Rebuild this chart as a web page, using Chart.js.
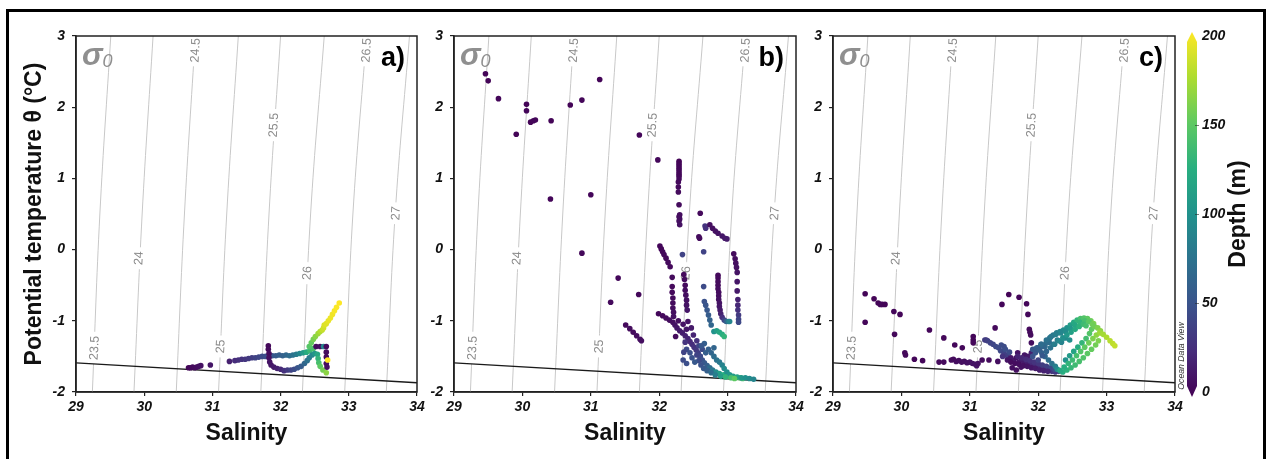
<!DOCTYPE html>
<html lang="en">
<head>
<meta charset="UTF-8" />
<title>Potential temperature – salinity diagrams</title>
<style>
  body { margin: 0; background: #fff; }
  .figure { position: relative; width: 1268px; height: 459px; overflow: hidden; background: #fff; }
  .figure .border {
    position: absolute; left: 6px; top: 9px; width: 1260px; height: 480px;
    border: 3px solid #000; box-sizing: border-box;
  }
  canvas { position: absolute; top: 0; }
</style>
</head>
<body>
<div class="figure">
  <div class="border"></div>
  <canvas id="panelA" width="428" height="459" style="left:0px"></canvas>
  <canvas id="panelB" width="392" height="459" style="left:420px"></canvas>
  <canvas id="panelC" width="462" height="459" style="left:806px"></canvas>
</div>

<script src="https://cdn.jsdelivr.net/npm/chart.js"></script>
<script>
  const FONT = '"Liberation Sans", Arial, Helvetica, sans-serif';

  // axis ranges
  const salRange = [29, 34];
  const thetaRange = [-2, 3];
  const depthMin = 0;
  const depthMax = 200;

  // sigma-0 isopycnals: salinity where each line meets theta = -2, 0.5 and 3 degC
  const sigmaLevels = ['23.5', '24', '24.5', '25', '25.5', '26', '26.5', '27'];
  const isoTemps = [-2, 0.5, 3];
  const isoSalLow  = [29.24, 29.85, 30.47, 31.09, 31.71, 32.32, 32.94, 33.55];
  const isoSalMid  = [29.35, 29.97, 30.59, 31.21, 31.83, 32.44, 33.06, 33.68];
  const isoSalHigh = [29.51, 30.13, 30.75, 31.38, 32.00, 32.64, 33.26, 33.89];
  const labelSal  = [29.26, 29.91, 30.74, 31.11, 31.89, 32.38, 33.25, 33.68];
  const labelTemp = [-1.38, -0.12, 2.80, -1.36, 1.75, -0.33, 2.80, 0.51];

  // surface freezing point line
  const freezeSal = [29, 34];
  const freezeTemp = [-1.59, -1.87];

  // a) casts
  const salA = [
    30.65, 30.68, 30.71, 30.74, 30.77, 30.80, 30.83, 30.97, 31.25,
    31.33, 31.38, 31.43, 31.48, 31.53, 31.58, 31.63, 31.68, 31.73, 31.78, 31.83, 31.88, 31.93, 31.98, 32.03, 32.08, 32.13, 32.18, 32.23, 32.28, 32.33, 32.38, 32.43, 32.48,
    32.42, 32.45, 32.48, 32.51, 32.55, 32.58, 32.61, 32.63, 32.64, 32.67, 32.70, 32.73, 32.76, 32.79, 32.82, 32.86,
    31.82, 31.82, 31.83, 31.83, 31.84, 31.86, 31.90, 31.95, 32.00, 32.05, 32.10, 32.15, 32.20, 32.25, 32.30, 32.35, 32.39, 32.42, 32.46, 32.50, 32.54, 32.55, 32.56, 32.58, 32.62, 32.67,
    32.52, 32.58, 32.63, 32.67, 32.67, 32.67, 32.67, 32.68, 32.69
  ];
  const thetaA = [
    -1.66, -1.66, -1.65, -1.66, -1.65, -1.64, -1.63, -1.62, -1.57,
    -1.56, -1.55, -1.54, -1.54, -1.53, -1.52, -1.52, -1.51, -1.50, -1.50, -1.49, -1.49, -1.49, -1.48, -1.49, -1.48, -1.49, -1.48, -1.47, -1.46, -1.45, -1.44, -1.42, -1.39,
    -1.36, -1.31, -1.26, -1.22, -1.18, -1.15, -1.13, -1.10, -1.06, -1.04, -1.00, -0.96, -0.91, -0.86, -0.81, -0.75,
    -1.35, -1.40, -1.46, -1.52, -1.58, -1.62, -1.65, -1.67, -1.68, -1.70, -1.69, -1.69, -1.68, -1.66, -1.64, -1.60, -1.56, -1.52, -1.48, -1.46, -1.47, -1.53, -1.59, -1.64, -1.69, -1.73,
    -1.36, -1.36, -1.36, -1.36, -1.44, -1.51, -1.60, -1.65, -1.55
  ];
  const depthA = [
    3, 4, 5, 6, 7, 8, 9, 12, 18,
    25, 27, 29, 31, 33, 36, 39, 42, 45, 48, 50, 53, 56, 59, 62, 66, 70, 75, 82, 92, 108, 122, 134, 142,
    146, 152, 158, 164, 170, 176, 182, 186, 189, 191, 193, 195, 196, 198, 199, 200,
    4, 5, 6, 8, 10, 12, 15, 18, 22, 28, 34, 40, 46, 52, 58, 66, 74, 82, 92, 104, 118, 130, 140, 150, 158, 165,
    6, 8, 90, 5, 6, 5, 7, 8, 200
  ];

  // b) casts
  const salB = [
    29.46, 29.50, 29.65, 30.06, 30.06, 29.91, 30.12, 30.16, 30.19, 30.42, 30.70, 30.87, 31.13, 30.41, 31.00, 30.87, 31.71, 31.98, 31.40, 31.29, 31.70, 31.51, 31.57, 31.62, 31.67, 31.72, 31.74,
    32.29, 32.29, 32.29, 32.29, 32.29, 32.29, 32.29, 32.29, 32.29, 32.28, 32.28, 32.28, 32.29, 32.30, 32.29, 32.30, 32.29, 32.30,
    32.60, 32.67, 32.68, 32.74, 32.78, 32.82, 32.86, 32.92, 32.96, 32.99, 32.59, 32.58, 32.65,
    33.09, 33.11, 33.12, 33.13, 33.14, 33.14, 33.14, 33.15, 33.15, 33.15, 33.16, 33.16, 33.16,
    32.86, 32.86, 32.86, 32.86, 32.86, 32.87, 32.87, 32.87, 32.88, 32.88, 32.89, 32.90, 32.92, 32.95, 32.98, 33.01, 33.03,
    32.01, 32.03, 32.05, 32.07, 32.10, 32.13, 32.16, 32.19,
    32.19, 32.19, 32.20, 32.20, 32.20, 32.21, 32.21,
    32.34, 32.36, 32.37, 32.38, 32.38, 32.39, 32.40, 32.40, 32.41,
    32.65, 32.66, 32.68, 32.70, 32.72, 32.74, 32.76,
    32.80, 32.84, 32.88, 32.92, 32.95,
    31.99, 32.05, 32.10, 32.15, 32.20, 32.23, 32.26, 32.30, 32.34, 32.38, 32.42, 32.45, 32.48, 32.51, 32.54, 32.57, 32.60,
    32.28, 32.35, 32.40, 32.42, 32.47, 32.38, 32.40, 32.45, 32.36, 32.50, 32.55, 32.58, 32.63, 32.66, 32.24,
    32.60, 32.63, 32.66, 32.70, 32.74, 32.78, 32.83, 32.88, 32.94, 33.00, 33.06, 33.12, 33.18, 33.22,
    32.72, 32.76, 32.80, 32.84, 32.88, 32.92, 32.95, 32.99, 33.03, 33.08, 33.14, 33.20, 33.26, 33.32, 33.38,
    32.55, 32.58, 32.61, 32.65, 32.70, 32.76, 32.82, 32.90, 32.97, 33.05, 33.10,
    32.35, 32.40, 32.48, 32.52, 32.62, 32.68, 32.80
  ];
  const thetaB = [
    2.47, 2.37, 2.12, 2.04, 1.95, 1.62, 1.79, 1.81, 1.82, 1.81, 2.03, 2.10, 2.39, 0.71, 0.77, -0.05, 1.61, 1.26, -0.40, -0.74, -0.63, -1.06, -1.11, -1.16, -1.21, -1.26, -1.28,
    1.24, 1.21, 1.18, 1.15, 1.12, 1.09, 1.06, 1.03, 0.99, 0.95, 0.88, 0.81, 0.63, 0.49, 0.46, 0.43, 0.40, 0.35,
    0.51, 0.33, 0.30, 0.35, 0.30, 0.26, 0.23, 0.19, 0.16, 0.15, 0.16, 0.18, -0.03,
    -0.06, -0.13, -0.19, -0.25, -0.32, -0.45, -0.58, -0.70, -0.78, -0.85, -0.92, -0.98, -1.02,
    -0.36, -0.40, -0.45, -0.50, -0.55, -0.60, -0.65, -0.70, -0.75, -0.80, -0.85, -0.90, -0.95, -0.99, -1.01, -1.01, -1.01,
    0.05, 0.01, -0.03, -0.07, -0.12, -0.18, -0.24, -0.39,
    -0.52, -0.60, -0.68, -0.75, -0.82, -0.88, -0.94,
    -0.07, -0.35, -0.42, -0.50, -0.57, -0.64, -0.71, -0.78, -0.85,
    -0.52, -0.73, -0.78, -0.85, -0.92, -0.99, -1.06,
    -1.15, -1.14, -1.16, -1.19, -1.22,
    -0.90, -0.93, -0.96, -0.99, -1.02, -1.06, -1.10, -1.14, -1.17, -1.21, -1.25, -1.29, -1.33, -1.37, -1.41, -1.45, -1.50,
    -1.00, -1.05, -1.12, -1.01, -1.10, -1.30, -1.40, -1.45, -1.44, -1.20, -1.28, -1.35, -1.40, -1.32, -1.22,
    -1.50, -1.55, -1.59, -1.63, -1.66, -1.69, -1.72, -1.74, -1.76, -1.78, -1.79, -1.80, -1.80, -1.81,
    -1.40, -1.45, -1.50, -1.55, -1.58, -1.62, -1.67, -1.72, -1.76, -1.78, -1.79, -1.80, -1.80, -1.81, -1.82,
    -1.48, -1.56, -1.62, -1.67, -1.70, -1.73, -1.76, -1.78, -1.79, -1.80, -1.81,
    -1.55, -1.60, -1.52, -1.58, -1.35, -1.45, -1.38
  ];
  const depthB = [
    2, 2, 3, 2, 3, 2, 2, 3, 3, 2, 2, 3, 2, 3, 3, 4, 3, 4, 4, 5, 4, 5, 6, 6, 7, 8, 8,
    2, 2, 3, 3, 3, 4, 4, 4, 5, 5, 5, 6, 6, 7, 7, 8, 8, 9,
    5, 30, 28, 8, 8, 9, 10, 12, 14, 15, 6, 6, 40,
    6, 7, 8, 9, 10, 12, 14, 18, 22, 28, 34, 40, 44,
    5, 5, 6, 6, 7, 7, 8, 9, 10, 12, 14, 18, 26, 40, 60, 80, 90,
    3, 3, 4, 4, 4, 5, 5, 6,
    5, 5, 6, 6, 7, 8, 9,
    40, 5, 6, 6, 7, 8, 9, 10, 12,
    45, 50, 52, 55, 58, 62, 66,
    100, 110, 118, 124, 130,
    4, 5, 6, 7, 8, 10, 12, 14, 16, 18, 20, 22, 25, 28, 32, 36, 40,
    8, 10, 12, 10, 14, 30, 45, 48, 40, 20, 28, 40, 45, 60, 6,
    45, 50, 55, 60, 70, 80, 95, 110, 125, 135, 140, 145, 150, 140,
    60, 65, 70, 75, 80, 88, 95, 100, 105, 110, 115, 105, 100, 95, 90,
    40, 45, 50, 55, 60, 70, 85, 110, 130, 140, 150,
    45, 48, 50, 55, 55, 60, 65
  ];

  // c) casts
  const salC = [
    29.47, 29.47, 29.60, 29.66, 29.69, 29.72, 29.76, 29.89, 29.98, 29.90, 30.05, 30.06, 30.19, 30.31, 30.41, 30.62, 30.78, 30.89, 30.55, 30.62,
    30.73, 30.76, 30.80, 30.84, 30.88, 30.92, 30.96, 31.00, 31.04, 31.08, 31.10,
    31.05, 31.05, 31.05, 31.24, 31.37, 31.28, 31.47, 31.57, 31.72, 31.83, 31.85, 31.87, 31.88, 31.89, 31.90, 31.41, 31.18, 31.12,
    31.22, 31.26, 31.30, 31.34, 31.38, 31.42, 31.46, 31.50, 31.45, 31.50, 31.54, 31.56, 31.48, 31.52, 31.58,
    31.55, 31.60, 31.64, 31.68, 31.72, 31.76, 31.80, 31.84, 31.88, 31.92, 31.96, 32.00, 32.05, 32.10, 32.15, 32.20, 32.25, 32.30,
    31.62, 31.68, 31.75, 31.85, 31.90, 31.80, 31.70,
    31.70, 31.76, 31.82, 31.88, 31.94, 32.00, 32.06, 32.12, 32.18, 32.24,
    31.60, 31.66, 31.72, 31.78, 31.84, 31.90, 31.96, 32.02, 32.08, 32.14,
    31.92, 31.96, 32.00, 31.95, 32.05, 32.10, 32.15, 32.20, 32.25, 32.28,
    31.92, 31.98, 32.04, 32.10, 32.16, 32.22, 32.28, 32.34, 32.40, 32.46,
    32.02, 32.07, 32.12, 32.17, 32.22, 32.27, 32.32, 32.37, 32.42, 32.47, 32.52, 32.57, 32.62, 32.67, 32.72, 32.77, 32.81,
    32.05, 32.12, 32.19, 32.26, 32.33, 32.40, 32.47, 32.54, 32.61, 32.68, 32.74, 32.79,
    32.00, 32.06, 32.12, 32.18, 32.24, 32.30, 32.36, 32.42, 32.48, 32.54, 32.60, 32.66, 32.70,
    32.40, 32.46, 32.52, 32.58, 32.64, 32.70, 32.75, 32.78, 32.82, 32.87, 32.91,
    32.36, 32.42, 32.48, 32.54, 32.60, 32.66, 32.72, 32.78, 32.84, 32.88,
    32.32, 32.38, 32.44, 32.50, 32.56, 32.62, 32.68, 32.74, 32.80, 32.85, 32.90, 32.95, 33.00, 33.05, 33.09, 33.12
  ];
  const thetaC = [
    -0.62, -1.02, -0.69, -0.75, -0.77, -0.77, -0.77, -0.87, -0.91, -1.19, -1.45, -1.48, -1.54, -1.56, -1.13, -1.24, -1.34, -1.38, -1.58, -1.58,
    -1.55, -1.54, -1.57, -1.56, -1.58, -1.57, -1.59, -1.58, -1.60, -1.61, -1.63,
    -1.22, -1.27, -1.31, -1.27, -1.10, -1.55, -0.77, -0.63, -0.67, -0.76, -0.91, -1.12, -1.16, -1.20, -1.31, -1.57, -1.55, -1.60,
    -1.27, -1.28, -1.31, -1.33, -1.36, -1.38, -1.34, -1.36, -1.42, -1.46, -1.48, -1.52, -1.50, -1.40, -1.44,
    -1.55, -1.52, -1.56, -1.52, -1.58, -1.55, -1.60, -1.58, -1.62, -1.60, -1.64, -1.66, -1.67, -1.69, -1.70, -1.71, -1.72, -1.71,
    -1.66, -1.69, -1.65, -1.50, -1.45, -1.48, -1.45,
    -1.50, -1.52, -1.54, -1.56, -1.58, -1.60, -1.62, -1.64, -1.66, -1.68,
    -1.58, -1.60, -1.61, -1.63, -1.64, -1.66, -1.67, -1.69, -1.70, -1.71,
    -1.50, -1.45, -1.38, -1.40, -1.45, -1.50, -1.55, -1.60, -1.64, -1.68,
    -1.40, -1.38, -1.33, -1.36, -1.30, -1.33, -1.27, -1.30, -1.24, -1.27,
    -1.41, -1.36, -1.30, -1.24, -1.20, -1.17, -1.15, -1.13, -1.10, -1.06, -1.02, -0.99, -0.97, -0.96, -0.97, -1.00, -1.04,
    -1.33, -1.27, -1.22, -1.19, -1.17, -1.15, -1.11, -1.06, -1.02, -1.00, -1.01, -1.05,
    -1.55, -1.49, -1.43, -1.38, -1.33, -1.28, -1.24, -1.20, -1.16, -1.12, -1.08, -1.05, -1.07,
    -1.55, -1.49, -1.43, -1.37, -1.31, -1.25, -1.18, -1.12, -1.08, -1.10, -1.14,
    -1.72, -1.69, -1.66, -1.62, -1.57, -1.52, -1.46, -1.40, -1.34, -1.28,
    -1.70, -1.65, -1.60, -1.55, -1.49, -1.43, -1.37, -1.31, -1.25, -1.20, -1.17, -1.19, -1.23, -1.28, -1.32, -1.35
  ];
  const depthC = [
    2, 3, 2, 2, 3, 3, 2, 3, 3, 4, 4, 4, 3, 3, 3, 4, 4, 4, 5, 5,
    6, 6, 7, 7, 8, 8, 9, 9, 10, 10, 11,
    3, 3, 4, 30, 5, 6, 3, 2, 3, 3, 4, 5, 5, 6, 8, 8, 7, 9,
    35, 38, 40, 42, 44, 45, 46, 46, 44, 40, 38, 36, 30, 48, 46,
    10, 12, 14, 10, 12, 15, 16, 18, 20, 22, 22, 24, 26, 28, 30, 32, 34, 36,
    8, 8, 10, 15, 18, 12, 10,
    20, 22, 25, 28, 30, 32, 35, 38, 42, 46,
    6, 7, 8, 9, 10, 12, 14, 16, 18, 20,
    50, 55, 60, 55, 60, 65, 70, 75, 85, 95,
    55, 60, 65, 70, 72, 78, 82, 88, 92, 98,
    60, 65, 70, 75, 80, 85, 90, 95, 100, 110, 120, 130, 140, 145, 150, 155, 160,
    70, 75, 80, 85, 90, 95, 105, 118, 130, 140, 148, 155,
    40, 55, 65, 75, 85, 92, 98, 105, 112, 120, 128, 135, 140,
    100, 108, 115, 122, 130, 138, 145, 150, 155, 160, 165,
    125, 128, 132, 136, 140, 144, 148, 152, 156, 160,
    120, 125, 130, 135, 140, 145, 150, 155, 160, 165, 170, 172, 175, 178, 180, 182
  ];

  const depthTicks = [0, 50, 100, 150, 200];

  // viridis colour ramp
  const viridisStops = ['#440154', '#472d7b', '#3b528b', '#2c728e', '#21918c', '#28ae80', '#5ec962', '#addc30', '#fde725'];
  function hexRgb(h) { return [1, 3, 5].map(i => parseInt(h.slice(i, i + 2), 16)); }
  function viridis(f) {
    f = Math.min(1, Math.max(0, f));
    const p = f * (viridisStops.length - 1);
    const i = Math.min(Math.floor(p), viridisStops.length - 2);
    const t = p - i;
    const a = hexRgb(viridisStops[i]), b = hexRgb(viridisStops[i + 1]);
    const c = a.map((v, k) => Math.round(v + (b[k] - v) * t));
    return `rgb(${c[0]},${c[1]},${c[2]})`;
  }

  // isopycnal labels, drawn right after their line so the white gap hides it
  const isoLabels = {
    id: 'isoLabels',
    afterDatasetDraw(chart, args) {
      const ds = chart.data.datasets[args.index];
      if (ds.sigmaIndex === undefined) return;
      const i = ds.sigmaIndex;
      const { ctx, scales: { x, y } } = chart;
      const ang = Math.atan2(
        y.getPixelForValue(isoTemps[2]) - y.getPixelForValue(isoTemps[0]),
        x.getPixelForValue(isoSalHigh[i]) - x.getPixelForValue(isoSalLow[i])
      );
      ctx.save();
      ctx.translate(x.getPixelForValue(labelSal[i]), y.getPixelForValue(labelTemp[i]));
      ctx.rotate(ang);
      ctx.font = '12.5px ' + FONT;
      const w = ctx.measureText(sigmaLevels[i]).width;
      ctx.fillStyle = '#fff';
      ctx.fillRect(-w / 2 - 4, -6, w + 8, 12);
      ctx.fillStyle = '#8a8a8a';
      ctx.textAlign = 'center';
      ctx.textBaseline = 'middle';
      ctx.fillText(sigmaLevels[i], 0, 1);
      ctx.restore();
    }
  };

  // frame, sigma-0 tag and panel letter
  const panelDecor = {
    id: 'panelDecor',
    afterDraw(chart, args, opts) {
      const { ctx, chartArea: a } = chart;
      ctx.save();
      ctx.strokeStyle = '#222';
      ctx.lineWidth = 1.5;
      ctx.strokeRect(a.left, a.top, a.right - a.left, a.bottom - a.top);

      ctx.fillStyle = '#8f8f8f';
      ctx.textAlign = 'left';
      ctx.textBaseline = 'alphabetic';
      ctx.font = 'italic bold 31px ' + FONT;
      ctx.fillText('σ', a.left + 6, a.top + 29);
      const sw = ctx.measureText('σ').width;
      ctx.font = 'italic 18px ' + FONT;
      ctx.fillText('0', a.left + 6 + sw, a.top + 31);

      ctx.fillStyle = '#000';
      ctx.textAlign = 'right';
      ctx.font = 'bold 27px ' + FONT;
      ctx.fillText(opts.letter, a.right - 12, a.top + 30);
      ctx.restore();
    }
  };

  // depth colour bar painted beside the depth scale
  const depthBar = {
    id: 'depthBar',
    afterDraw(chart) {
      const s = chart.scales.depth;
      if (!s) return;
      const { ctx } = chart;
      const x0 = s.left + 12, x1 = x0 + 10, xm = (x0 + x1) / 2;
      const yTop = s.getPixelForValue(depthMax);
      const yBot = s.getPixelForValue(depthMin);
      ctx.save();
      const g = ctx.createLinearGradient(0, yBot + 5, 0, yTop - 4);
      viridisStops.forEach((c, i) => g.addColorStop(i / (viridisStops.length - 1), c));
      ctx.beginPath();
      ctx.moveTo(xm, yTop - 4);
      ctx.lineTo(x1, yTop + 6);
      ctx.lineTo(x1, yBot - 6);
      ctx.lineTo(xm, yBot + 5);
      ctx.lineTo(x0, yBot - 6);
      ctx.lineTo(x0, yTop + 6);
      ctx.closePath();
      ctx.fillStyle = g;
      ctx.fill();

      ctx.strokeStyle = 'rgba(40,40,40,0.6)';
      ctx.lineWidth = 1;
      depthTicks.slice(1, -1).forEach(v => {
        const yy = Math.round(s.getPixelForValue(v)) + 0.5;
        ctx.beginPath();
        ctx.moveTo(x1 - 2, yy);
        ctx.lineTo(x1 + 2, yy);
        ctx.stroke();
      });

      ctx.fillStyle = '#111';
      ctx.textAlign = 'center';
      ctx.textBaseline = 'middle';
      ctx.translate(s.left + 64, (s.top + s.bottom) / 2);
      ctx.rotate(-Math.PI / 2);
      ctx.font = 'bold 23px ' + FONT;
      ctx.fillText('Depth (m)', 0, 0);
      ctx.restore();

      ctx.save();
      ctx.translate(s.left + 7, s.bottom - 36);
      ctx.rotate(-Math.PI / 2);
      ctx.fillStyle = '#333';
      ctx.textAlign = 'center';
      ctx.textBaseline = 'middle';
      ctx.font = 'italic 8.7px ' + FONT;
      ctx.fillText('Ocean Data View', 0, 0);
      ctx.restore();
    }
  };

  const tickFont = { family: FONT, size: 14, style: 'italic', weight: 'bold' };

  function tsPanel(id, sal, theta, depth, cfg) {
    const isoSal = [isoSalLow, isoSalMid, isoSalHigh];
    const datasets = sigmaLevels.map((lev, i) => ({
      label: 'sigma0 ' + lev,
      sigmaIndex: i,
      data: isoTemps.map((t, k) => ({ x: isoSal[k][i], y: t })),
      showLine: true,
      borderColor: '#c8c8c8',
      borderWidth: 1,
      pointRadius: 0,
      tension: 0.4,
      order: 3
    }));
    datasets.push({
      label: 'freezing point',
      data: freezeSal.map((s, k) => ({ x: s, y: freezeTemp[k] })),
      showLine: true,
      borderColor: '#1a1a1a',
      borderWidth: 1.3,
      pointRadius: 0,
      order: 2
    });
    datasets.push({
      label: 'CTD',
      data: sal.map((s, k) => ({ x: s, y: theta[k] })),
      pointRadius: 2.8,
      pointBorderWidth: 0,
      pointBorderColor: 'rgba(0,0,0,0)',
      pointBackgroundColor: c => viridis((depth[c.dataIndex] - depthMin) / (depthMax - depthMin)),
      order: 1
    });

    const scales = {
      x: {
        type: 'linear', min: salRange[0], max: salRange[1],
        afterFit: s => { s.height = 67; },
        grid: { drawOnChartArea: false, drawTicks: true, tickLength: 4, color: '#222', lineWidth: 1.2 },
        border: { color: '#222', width: 1.5 },
        ticks: { stepSize: 1, padding: 3, maxRotation: 0, font: tickFont, color: '#111' },
        title: { display: true, text: 'Salinity', color: '#111',
                 font: { family: FONT, size: 23, weight: 'bold' }, padding: { top: 0, bottom: 12 } }
      },
      y: {
        type: 'linear', position: 'left', min: thetaRange[0], max: thetaRange[1],
        afterFit: s => { s.width = cfg.yWidth; },
        grid: { drawOnChartArea: false, drawTicks: true, tickLength: 4, color: '#222', lineWidth: 1.2 },
        border: { color: '#222', width: 1.5 },
        ticks: { stepSize: 1, padding: 7, font: tickFont, color: '#111' },
        title: cfg.yTitle
          ? { display: true, text: 'Potential temperature θ (°C)', color: '#111',
              font: { family: FONT, size: 23, weight: 'bold' }, padding: { top: 21, bottom: 0 } }
          : { display: false }
      }
    };
    if (cfg.colorbar) {
      scales.depth = {
        type: 'linear', position: 'right', min: depthMin, max: depthMax,
        afterFit: s => { s.width = 60; },
        grid: { display: false, drawTicks: false },
        border: { display: false },
        ticks: { stepSize: 50, padding: 27, font: tickFont, color: '#111' }
      };
    }

    return new Chart(document.getElementById(id), {
      type: 'scatter',
      data: { datasets },
      options: {
        responsive: false,
        animation: false,
        events: [],
        layout: { padding: { top: 36, bottom: 0, left: 0, right: cfg.padRight } },
        plugins: {
          legend: { display: false },
          tooltip: { enabled: false },
          panelDecor: { letter: cfg.letter }
        },
        scales
      },
      plugins: [isoLabels, panelDecor, depthBar]
    });
  }

  tsPanel('panelA', salA, thetaA, depthA, { yWidth: 76, padRight: 11, yTitle: true, letter: 'a)' });
  tsPanel('panelB', salB, thetaB, depthB, { yWidth: 34, padRight: 16, letter: 'b)' });
  tsPanel('panelC', salC, thetaC, depthC, { yWidth: 27, padRight: 33, letter: 'c)', colorbar: true });
</script>
</body>
</html>
